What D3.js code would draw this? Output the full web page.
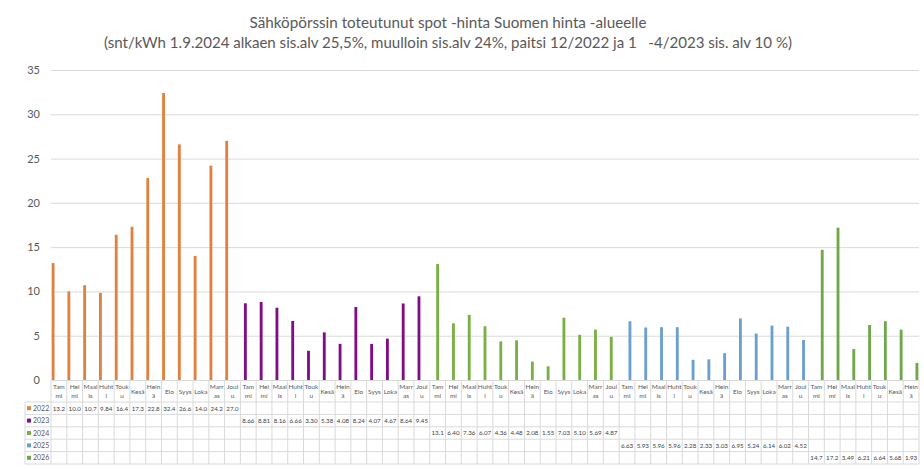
<!DOCTYPE html>
<html><head><meta charset="utf-8">
<script src="https://cdn.jsdelivr.net/npm/d3@7"></script>
<style>body{margin:0;background:#fff}svg{display:block}</style>
</head><body>
<svg id="c" width="924" height="469"></svg>
<script>
const monthTop = ["Tam","Hel","Maal","Huht","Touk","Kesä","Hein","Elo","Syys","Loka","Marr","Joul"];
const monthBot = ["mi","mi","is","i","u","","ä","","","","as","u"];
const seriesNames = ["2022","2023","2024","2025","2026"];
const seriesColors = ["#E2813F","#800D85","#7AB043","#6A9FCF","#6FA84A"];
const v2022 = [13.2,10.0,10.7,9.84,16.4,17.3,22.8,32.4,26.6,14.0,24.2,27.0];
const v2023 = [8.66,8.81,8.16,6.66,3.30,5.38,4.08,8.24,4.07,4.67,8.64,9.45];
const v2024 = [13.1,6.40,7.36,6.07,4.36,4.48,2.08,1.55,7.03,5.10,5.69,4.87];
const v2025 = [6.63,5.93,5.96,5.96,2.28,2.33,3.03,6.95,5.24,6.14,6.02,4.52];
const v2026 = [14.7,17.2,3.49,6.21,6.64,5.68,1.93];
const yTicks = [0,5,10,15,20,25,30,35];
const titleLine1 = "Sähköpörssin toteutunut spot -hinta Suomen hinta -alueelle";
const titleLine2 = "(snt/kWh 1.9.2024 alkaen sis.alv 25,5%, muulloin sis.alv 24%, paitsi 12/2022 ja 1   -4/2023 sis. alv 10 %)";

const allSeries = [v2022,v2023,v2024,v2025,v2026];
const cats = [];
allSeries.forEach((arr,si)=>arr.forEach((v,mi)=>cats.push({id:si+"-"+mi, si, mi, v})));

const svg = d3.select("#c");
const font = "Lato, 'Open Sans', sans-serif";
const L = 51, R = 919, T = 70, B = 380;
const x0 = d3.scaleBand().domain(cats.map(d=>d.id)).range([L,R]).paddingInner(0).paddingOuter(0);
const x1 = d3.scaleBand().domain(seriesNames).range([0.6, x0.bandwidth()-0.6]).padding(0.02);
const y = d3.scaleLinear().domain([0,35]).range([B,T]);

// title
svg.append("text").attr("x",448).attr("y",28).attr("text-anchor","middle")
  .attr("font-family",font).attr("font-size",16).attr("fill","#595959")
  .attr("textLength",397).attr("lengthAdjust","spacingAndGlyphs").text(titleLine1);
svg.append("text").attr("x",448).attr("y",48).attr("text-anchor","middle")
  .attr("font-family",font).attr("font-size",16).attr("fill","#595959")
  .attr("xml:space","preserve").style("white-space","pre")
  .attr("textLength",688).attr("lengthAdjust","spacingAndGlyphs").text(titleLine2);

// gridlines + y axis
const yAxis = d3.axisLeft(y).tickValues(yTicks).tickSize(-(R-L)).tickPadding(11);
const ga = svg.append("g").attr("transform",`translate(${L},0)`).call(yAxis);
ga.select(".domain").remove();
ga.selectAll(".tick line").attr("stroke","#d9d9d9").attr("stroke-width",1);
ga.selectAll(".tick text").attr("font-family",font).attr("font-size",11).attr("fill","#595959");

// bars
svg.append("g").selectAll("rect").data(cats).join("rect")
  .attr("x",d=>x0(d.id)+x1(seriesNames[d.si]))
  .attr("width",x1.bandwidth())
  .attr("y",d=>y(d.v))
  .attr("height",d=>y(0)-y(d.v))
  .attr("fill",d=>seriesColors[d.si]);

// data table
const hTop = B, hBot = 402, rowH = 12.4;
const tableBot = hBot + rowH*seriesNames.length;
const g = svg.append("g");
const lc = "#d9d9d9";
g.append("line").attr("x1",L).attr("x2",R).attr("y1",hTop+0.5).attr("y2",hTop+0.5).attr("stroke",lc);
for(let i=0;i<=seriesNames.length;i++){
  const yy = hBot + i*rowH;
  g.append("line").attr("x1",25).attr("x2",R).attr("y1",yy).attr("y2",yy).attr("stroke",lc);
}
cats.forEach(d=>{
  const xx = x0(d.id);
  g.append("line").attr("x1",xx).attr("x2",xx).attr("y1",hTop).attr("y2",tableBot).attr("stroke",lc);
});
g.append("line").attr("x1",R).attr("x2",R).attr("y1",hTop).attr("y2",tableBot).attr("stroke",lc);
g.append("line").attr("x1",25).attr("x2",25).attr("y1",hBot).attr("y2",tableBot).attr("stroke",lc);

// category labels
cats.forEach(d=>{
  const cx = x0(d.id)+x0.bandwidth()/2;
  const t = monthTop[d.mi], b = monthBot[d.mi];
  if(b){
    g.append("text").attr("x",cx).attr("y",389).attr("text-anchor","middle")
      .attr("font-family",font).attr("font-size",6.5).attr("fill","#595959").text(t);
    g.append("text").attr("x",cx).attr("y",398).attr("text-anchor","middle")
      .attr("font-family",font).attr("font-size",6.5).attr("fill","#595959").text(b);
  } else {
    g.append("text").attr("x",cx).attr("y",393.5).attr("text-anchor","middle")
      .attr("font-family",font).attr("font-size",6.5).attr("fill","#595959").text(t);
  }
});
// legend keys
seriesNames.forEach((s,i)=>{
  const yy = hBot + i*rowH;
  g.append("rect").attr("x",27).attr("y",yy+rowH/2-2).attr("width",4).attr("height",4).attr("fill",seriesColors[i]);
  g.append("text").attr("x",33).attr("y",yy+rowH/2+2.5).attr("font-family",font)
    .attr("font-size",7).attr("fill","#595959").text(s);
});
// values
const fmt = v => v>=10 ? v.toFixed(1) : v.toFixed(2);
cats.forEach(d=>{
  const cx = x0(d.id)+x0.bandwidth()/2;
  g.append("text").attr("x",cx).attr("y",hBot + d.si*rowH + rowH/2+2.3).attr("text-anchor","middle")
    .attr("font-family",font).attr("font-size",6.2).attr("fill","#404040").text(fmt(d.v));
});
</script>
</body></html>
